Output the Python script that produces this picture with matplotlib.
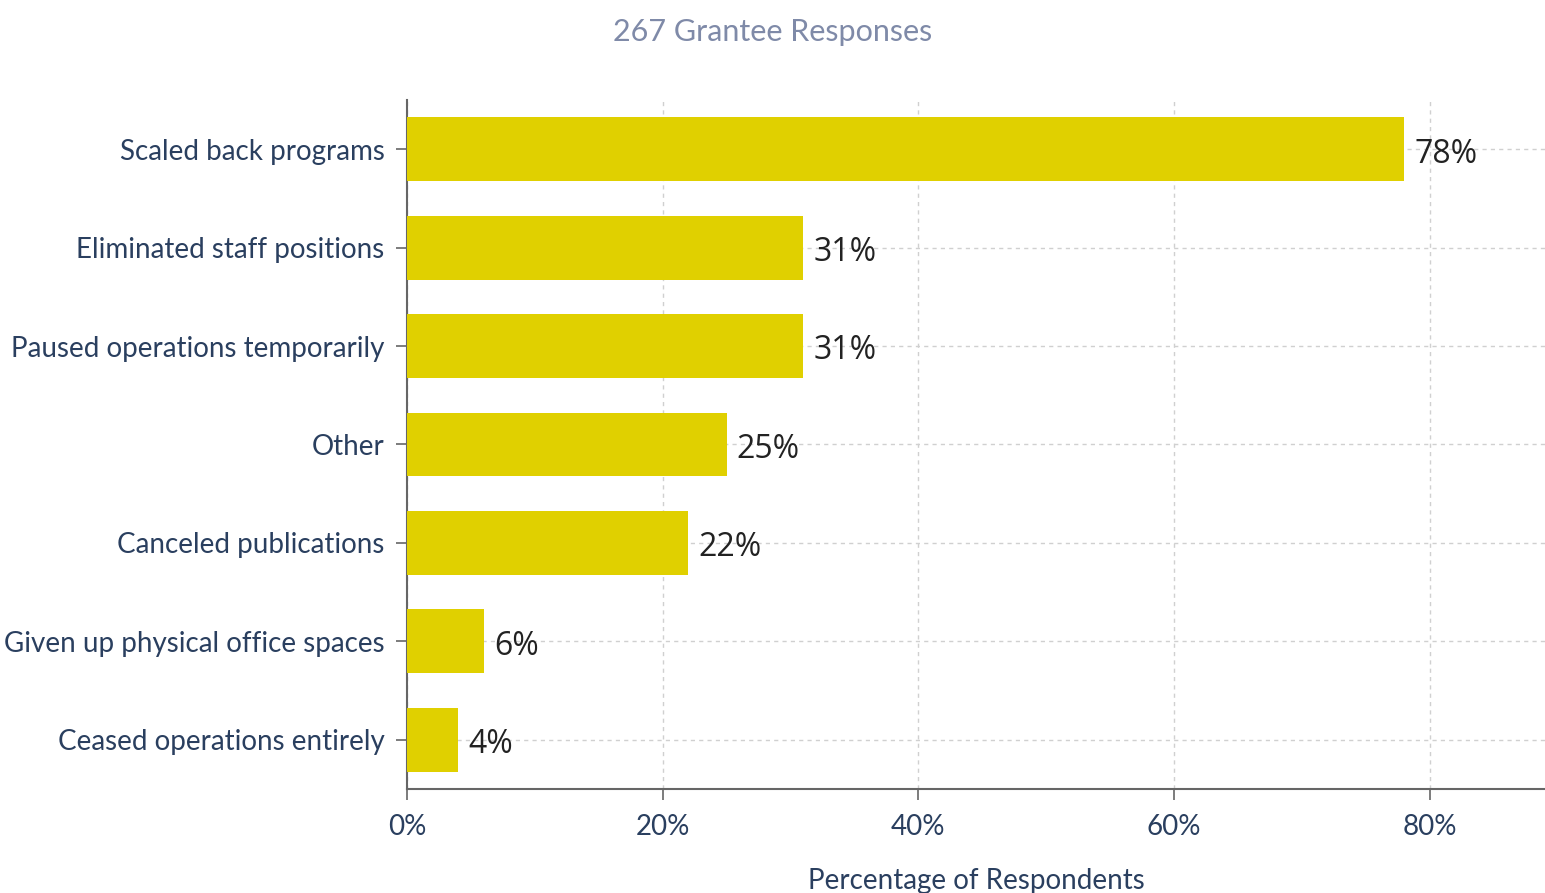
import matplotlib
matplotlib.use("Agg")
from matplotlib import pyplot as plt
from matplotlib.ticker import FuncFormatter

# data
categories = ["Scaled back programs", "Eliminated staff positions",
              "Paused operations temporarily", "Other", "Canceled publications",
              "Given up physical office spaces", "Ceased operations entirely"]
values = [78, 31, 31, 25, 22, 6, 4]
title = "267 Grantee Responses"

bar_color = "#E0D000"
text_color = "#2A3F5F"

plt.rcParams['font.family'] = ['Lato', 'DejaVu Sans']

fig = plt.figure(figsize=(15.45, 8.93), dpi=100)
ax = fig.add_axes([0.2634, 0.1165, 0.7366, 0.7715])

ypos = list(range(len(categories)))
ax.barh(ypos, values, height=0.65, color=bar_color, zorder=3)
for y, v in zip(ypos, values):
    ax.text(v + 0.8, y + 0.05, f"{v}%", va="center", ha="left",
            fontsize=23, color="#222222", family=["Open Sans", "DejaVu Sans"], zorder=4)

ax.set_yticks(ypos)
ax.set_yticklabels(categories)
ax.set_ylim(len(categories) - 0.5, -0.5)
ax.set_xlim(0, 89)
ax.set_xticks([0, 20, 40, 60, 80])
ax.xaxis.set_major_formatter(FuncFormatter(lambda x, p: f"{x:.0f}%"))

ax.tick_params(axis="both", labelsize=20, labelcolor=text_color, color="#666666",
               length=8, width=1.2)
ax.tick_params(axis="x", pad=10)
ax.tick_params(axis="y", pad=8)

ax.grid(True, color="#D0D0D0", linestyle=(0, (3, 3)), linewidth=1, zorder=0)
ax.set_axisbelow(True)

for s in ["top", "right"]:
    ax.spines[s].set_visible(False)
for s in ["left", "bottom"]:
    ax.spines[s].set_color("#666666")
    ax.spines[s].set_linewidth(1.5)

ax.set_xlabel("Percentage of Respondents", fontsize=20, color=text_color, labelpad=20)
fig.text(0.5, 0.964, title, ha="center", va="center", fontsize=22, color="#7F8AA8")

fig.savefig("out.png", dpi=100)
